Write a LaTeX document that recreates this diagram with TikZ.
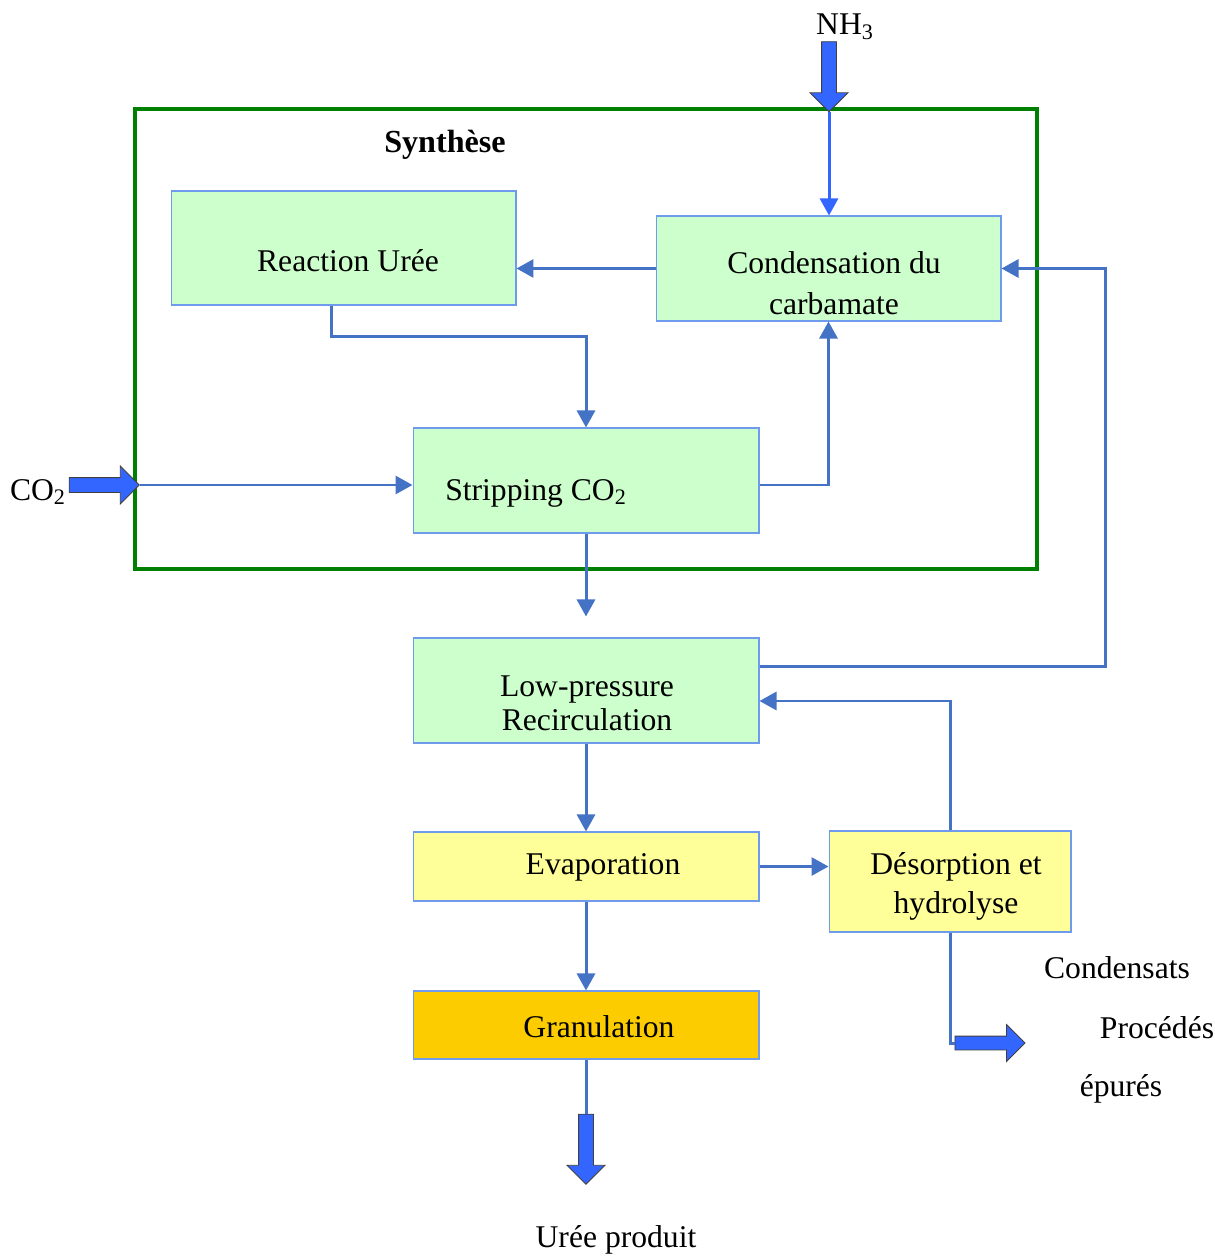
\documentclass[tikz,border=0pt]{standalone}
\usepackage{fontspec}
\setmainfont{Liberation Serif}
\usetikzlibrary{positioning, arrows, arrows.meta, shapes, shapes.arrows}

\definecolor{boxGreen}{RGB}{204,255,204}
\definecolor{boxYellow}{RGB}{255,255,153}
\definecolor{boxOrange}{RGB}{252,204,0}
\definecolor{boxBorder}{RGB}{110,155,235}
\definecolor{frameGreen}{RGB}{0,128,0}
\definecolor{flowBlue}{RGB}{68,114,196}
\definecolor{feedBlue}{RGB}{51,102,255}

\tikzstyle{greenRectangle} = [
    rectangle,
    draw=boxBorder,
    fill=boxGreen,
    line width=0.6pt,
    minimum width=6.92cm,
    minimum height=2.1cm
    ]
\tikzstyle{yellowRectangle} = [
    rectangle,
    draw=boxBorder,
    fill=boxYellow,
    line width=0.6pt,
    minimum width=6.92cm,
    minimum height=1.38cm
    ]
\tikzstyle{orangeRectangle} = [
    rectangle,
    draw=boxBorder,
    fill=boxOrange,
    line width=0.6pt,
    minimum width=6.92cm,
    minimum height=1.36cm
    ]
\tikzstyle{boxText} = [
    align=center,
    inner sep=0pt
    ]
\tikzstyle{bigArrow} = [
    single arrow,
    draw=black!75,
    fill=feedBlue,
    line width=0.5pt,
    inner sep=0.14cm,
    minimum width=0.72cm,
    single arrow head extend=0.23cm,
    minimum height=1.4cm
    ]
\tikzstyle{flow} = [
    draw=flowBlue,
    line width=1.7pt,
    -{Triangle[length=0.34cm,width=0.36cm]}
    ]
\tikzstyle{synthFrame} = [
    draw=frameGreen,
    line width=0.08cm
    ]

\begin{document}
\begin{tikzpicture}[x=0.02cm, y=-0.02cm, font=\fontsize{18}{23}\selectfont]
      \useasboundingbox (0,0) rectangle (1214,1256);
      \draw[synthFrame] (135,109) rectangle (1037,569);
      \node[font=\fontsize{18.3}{23}\selectfont] at (445,145) (synth) {\textbf{Synthèse}};

      % process boxes
      \node[greenRectangle, minimum width=6.9cm, minimum height=2.28cm] at (343.5,248) (reaction) {};
      \node[greenRectangle, minimum width=6.9cm] at (828.5,268.5) (cond) {};
      \node[greenRectangle] at (586,480.5) (strip) {};
      \node[greenRectangle] at (586,690.5) (lowp) {};
      \node[yellowRectangle] at (586,866.5) (evap) {};
      \node[yellowRectangle, minimum width=4.84cm, minimum height=2.02cm] at (950,881.5) (desorp) {};
      \node[orangeRectangle] at (586,1025) (gran) {};

      % box texts
      \node[boxText] at (348,261) (reactionTxt) {Reaction Urée};
      \node[boxText, font=\fontsize{18}{23.3}\selectfont] at (834,283) (condTxt) {Condensation du\\carbamate};
      \node[boxText] at (536,493) (stripTxt) {Stripping CO\textsubscript{2}};
      \node[boxText, font=\fontsize{18}{19.4}\selectfont] at (587,703) (lowpTxt) {Low-pressure\\Recirculation};
      \node[boxText] at (603,867) (evapTxt) {Evaporation};
      \node[boxText, font=\fontsize{18}{22.2}\selectfont] at (956,886) (desorpTxt) {Désorption et\\hydrolyse};
      \node[boxText] at (599,1027) (granTxt) {Granulation};

      % feeds and product
      \node[] at (845,27) (nh3) {NH\textsubscript{3}};
      \node[bigArrow, rotate=-90] at (829,73) (nh3arrow) {};
      \node[] at (38,492) (co2) {CO\textsubscript{2}};
      \node[bigArrow] at (100.5,485) (co2arrow) {};
      \node[bigArrow, rotate=-90] at (586,1145.5) (prodarrow) {};
      \node[] at (616,1240) (prod) {Urée produit};
      \node[bigArrow, minimum width=0.7cm, inner sep=0.13cm] at (986.5,1043) (condarrow) {};
      \node[] at (1117,968) (lbl1) {Condensats};
      \node[] at (1157,1028) (lbl2) {Procédés};
      \node[] at (1121,1089) (lbl3) {épurés};

      % synthesis loop
      \draw[flow, draw=feedBlue] (nh3arrow.tip) -- (nh3arrow.tip |- cond.north);
      \draw[flow] (co2arrow.tip) -- (co2arrow.tip -| strip.west);
      \draw[flow] (cond.west) -- (cond.west -| reaction.east);
      \draw[flow] ([xshift=-0.25cm]reaction.south) -- ++(0,31) -| (strip.north);
      \draw[flow] ([yshift=-0.09cm]strip.east) -| (cond.south);
      \draw[flow, shorten >=0.42cm] (strip.south) -- (lowp.north);

      % recirculation and finishing
      \draw[flow] ([yshift=0.49cm]lowp.east) -- ++(346,0) |- (cond.east);
      \draw[flow] (desorp.north) |- ([yshift=-0.21cm]lowp.east);
      \draw[flow] (lowp.south) -- (evap.north);
      \draw[flow] (evap.east) -- (evap.east -| desorp.west);
      \draw[flow] (evap.south) -- (gran.north);
      \draw[draw=flowBlue, line width=1.7pt] (gran.south) -- (prodarrow.tail);
      \draw[draw=flowBlue, line width=1.7pt] (desorp.south) |- (condarrow.tail);
    \end{tikzpicture}
\end{document}
